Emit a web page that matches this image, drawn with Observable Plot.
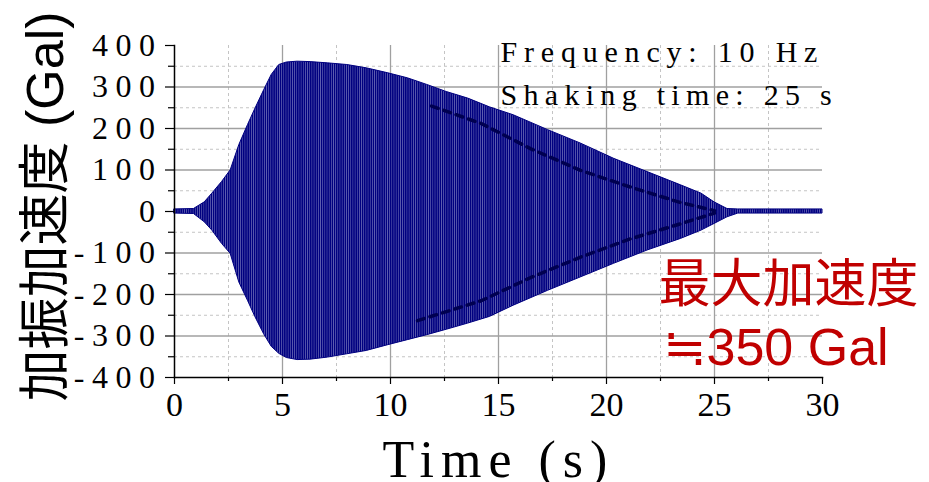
<!DOCTYPE html>
<html><head><meta charset="utf-8">
<script src="https://cdn.jsdelivr.net/npm/d3@7"></script>
<script src="https://cdn.jsdelivr.net/npm/@observablehq/plot@0.6"></script>
<style>
body{margin:0;background:#fff;}
#chart svg{overflow:visible;}
g[aria-label="y-axis tick label"] text{letter-spacing:7.5px;}
</style></head><body><div id="chart"></div>
<script>
// Envelope of the acceleration record (Gal)
const timeS    = [0, 0.9, 1.4, 1.75, 2.2, 2.6, 3.0, 3.4, 3.75, 4.15, 4.5, 4.85, 5.2, 5.7, 6.3, 7.1, 8.0, 8.9, 9.9, 10.8, 11.7, 12.6, 13.6, 14.6, 15.7, 17.3, 18.8, 20.35, 21.9, 23.45, 24.4, 25.0, 25.6, 26.1, 30];
const upperGal = [5, 6, 22, 43, 71, 99, 160, 208, 248, 292, 329, 353, 359, 361, 360, 357, 353, 345, 333, 321, 305, 288, 272, 251, 232, 196, 164, 127, 95, 63, 43, 22, 6, 5, 5];
const lowerGal = [-5, -6, -26, -46, -78, -102, -171, -215, -255, -296, -326, -343, -353, -358, -357, -352, -344, -336, -322, -310, -298, -285, -270, -254, -227, -191, -159, -126, -94, -66, -46, -30, -14, -5, -5];
// Beat pattern visible inside the waveform (dashed inner curves)
const beatUpperT   = [11.9, 14.2, 16.5, 18.8, 21.1, 23.4, 25.0];
const beatUpperGal = [254, 212, 151, 99, 59, 22, 2];
const beatLowerT   = [11.25, 14.2, 16.5, 18.8, 21.1, 23.4, 25.0];
const beatLowerGal = [-263, -215, -159, -110, -66, -30, -4];
const frequencyHz = 10;
// Ticks and grid
const yMajorTicks = [-400, -300, -200, -100, 0, 100, 200, 300, 400];
const yMinorTicks = [-350, -250, -150, -50, 50, 150, 250, 350];
const xMajorTicks = [0, 5, 10, 15, 20, 25, 30];
const xMinorTicks = [2.5, 7.5, 12.5, 17.5, 22.5, 27.5];
const yGridSolid = [-300, -200, -100, 0, 100, 200, 300];
const xGridSolid = [5, 10, 15, 20, 25];
// Texts
const infoLines = ["Frequency: 10 Hz", "Shaking time: 25 s"];
const noteLines = ["最大加速度", "≒350 Gal"];
const xLabel = "Time (s)";
const yLabel = "加振加速度 (Gal)";

const env = timeS.map((t, i) => ({t, hi: upperGal[i], lo: lowerGal[i]}));
const beatU = beatUpperT.map((t, i) => ({t, v: beatUpperGal[i]}));
const beatL = beatLowerT.map((t, i) => ({t, v: beatLowerGal[i]}));

const serif = "'Liberation Serif', 'Times New Roman', serif";
const sans = "'Liberation Sans', 'Noto Sans CJK JP', sans-serif";

const chart = Plot.plot({
  width: 929, height: 482,
  marginLeft: 174, marginRight: 107, marginTop: 45, marginBottom: 105,
  style: {fontFamily: serif, fontSize: "32px", color: "black", background: "white"},
  x: {domain: [0, 30]},
  y: {domain: [-400, 400]},
  marks: [
    Plot.gridY(yMinorTicks, {stroke: "#c4c4c4", strokeOpacity: 1, strokeWidth: 1, strokeDasharray: "3,3"}),
    Plot.gridX(xMinorTicks, {stroke: "#c4c4c4", strokeOpacity: 1, strokeWidth: 1, strokeDasharray: "3,3"}),
    Plot.gridY(yGridSolid, {stroke: "#a0a0a0", strokeOpacity: 1, strokeWidth: 1.3}),
    Plot.gridX(xGridSolid, {stroke: "#a0a0a0", strokeOpacity: 1, strokeWidth: 1.3}),
    Plot.areaY(env, {x: "t", y1: "lo", y2: "hi", fill: "url(#wave)", stroke: "#000080", strokeWidth: 1}),
    Plot.line(beatU, {x: "t", y: "v", stroke: "#000050", strokeWidth: 3.5, strokeDasharray: "7,6"}),
    Plot.line(beatL, {x: "t", y: "v", stroke: "#000050", strokeWidth: 3.5, strokeDasharray: "7,6"}),
    Plot.frame({anchor: "left", stroke: "black", strokeWidth: 1.5}),
    Plot.frame({anchor: "bottom", stroke: "black", strokeWidth: 1.5}),
    Plot.axisY({ticks: yMinorTicks, tickSize: 6, text: null, label: null, strokeWidth: 1.2}),
    Plot.axisY({ticks: yMajorTicks, tickSize: 9, tickPadding: 3, label: null, fontSize: 32, strokeWidth: 1.2, tickFormat: d => String(d)}),
    Plot.axisX({ticks: xMinorTicks, tickSize: 4, text: null, label: null, strokeWidth: 1.2}),
    Plot.axisX({ticks: xMajorTicks, tickSize: 7, tickPadding: 7, label: null, fontSize: 34, strokeWidth: 1.2, tickFormat: d => String(d)}),
    Plot.text([infoLines[0]], {text: d => d, frameAnchor: "top-left", textAnchor: "start", lineAnchor: "middle", dx: 326, dy: 7, fontSize: 30, fontFamily: serif, fill: "black"}),
    Plot.text([infoLines[1]], {text: d => d, frameAnchor: "top-left", textAnchor: "start", lineAnchor: "middle", dx: 326, dy: 50, fontSize: 30, fontFamily: serif, fill: "black"}),
    Plot.text([noteLines[0]], {text: d => d, frameAnchor: "top-right", textAnchor: "start", lineAnchor: "middle", dx: -164, dy: 240, fontSize: 52, fontFamily: sans, fill: "#c00000"}),
    Plot.text([noteLines[1]], {text: d => d, frameAnchor: "top-right", textAnchor: "start", lineAnchor: "middle", dx: -160, dy: 303, fontSize: 52, fontFamily: sans, fill: "#c00000"}),
    Plot.text([xLabel], {text: d => d, frameAnchor: "bottom", textAnchor: "middle", lineAnchor: "middle", dx: 0, dy: 83, fontSize: 52, fontFamily: serif, fill: "black"}),
    Plot.text([yLabel], {text: d => d, frameAnchor: "left", textAnchor: "middle", lineAnchor: "middle", rotate: -90, dx: -128, dy: -5, fontSize: 52, fontFamily: sans, fill: "black"})
  ]
});

// stripe pattern representing the individual 10 Hz cycles
const xs = chart.scale("x");
const period = xs.apply(1 / frequencyHz) - xs.apply(0);
const svg = d3.select(chart);
const defs = svg.insert("defs", ":first-child");
const pat = defs.append("pattern").attr("id", "wave").attr("patternUnits", "userSpaceOnUse")
  .attr("x", xs.apply(0)).attr("y", 0).attr("width", period).attr("height", 20);
pat.append("rect").attr("width", period).attr("height", 20).attr("fill", "#6a6ab6");
pat.append("rect").attr("width", period * 0.7).attr("height", 20).attr("fill", "#000080");

svg.selectAll("text").each(function() {
  const s = this.textContent;
  if (s === infoLines[0]) d3.select(this).style("letter-spacing", "6.8px");
  if (s === infoLines[1]) d3.select(this).style("letter-spacing", "6.3px");
  if (s === xLabel) d3.select(this).style("letter-spacing", "7px");
});

document.getElementById("chart").appendChild(chart);
</script></body></html>
